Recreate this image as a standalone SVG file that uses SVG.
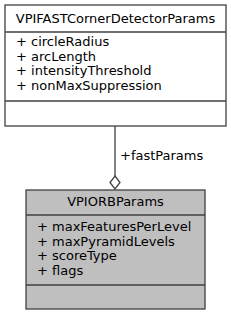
<svg xmlns="http://www.w3.org/2000/svg" width="231" height="316" viewBox="0 0 231 316">
<style>
text{font-family:"DejaVu Sans",sans-serif;font-size:13px;fill:#000}
.box{stroke:#404040;stroke-width:1.3}
.mid{text-anchor:middle}
</style>
<rect width="231" height="316" fill="#fff"/>
<g id="connectors">
<line x1="115" y1="126" x2="115" y2="176" stroke="#404040" stroke-width="1.3"/>
<polygon points="115,176 120,182.5 115,189 110,182.5" fill="#fff" stroke="#404040" stroke-width="1.3"/>
<text x="120" y="160">+fastParams</text>
</g>
<g id="node-VPIFASTCornerDetectorParams">
<rect class="box" x="5" y="5" width="221" height="121" fill="#fff"/>
<line class="box" x1="5" y1="32" x2="226" y2="32"/>
<line class="box" x1="5" y1="101" x2="226" y2="101"/>
<text class="mid" x="115.5" y="23">VPIFASTCornerDetectorParams</text>
<text x="16" y="46">+ circleRadius</text>
<text x="16" y="60.5">+ arcLength</text>
<text x="16" y="75">+ intensityThreshold</text>
<text x="16" y="89.5">+ nonMaxSuppression</text>
</g>
<g id="node-VPIORBParams">
<rect class="box" x="26" y="190" width="179" height="119" fill="#bfbfbf"/>
<line class="box" x1="26" y1="215" x2="205" y2="215"/>
<line class="box" x1="26" y1="285" x2="205" y2="285"/>
<text class="mid" x="115.5" y="206">VPIORBParams</text>
<text x="37" y="231">+ maxFeaturesPerLevel</text>
<text x="37" y="245.5">+ maxPyramidLevels</text>
<text x="37" y="260">+ scoreType</text>
<text x="37" y="274.5">+ flags</text>
</g>
</svg>
